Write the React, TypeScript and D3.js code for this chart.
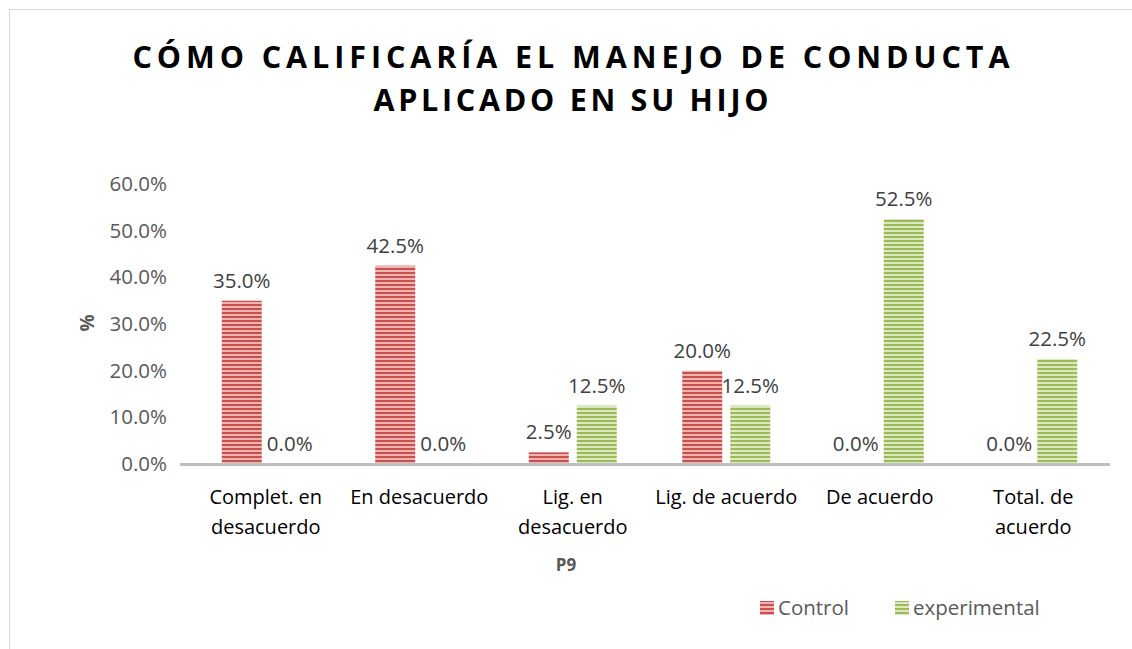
import React from "react";
import * as d3 from "d3";

const categories: string[][] = [
  ["Complet. en", "desacuerdo"],
  ["En desacuerdo"],
  ["Lig. en", "desacuerdo"],
  ["Lig. de acuerdo"],
  ["De acuerdo"],
  ["Total. de", "acuerdo"],
];
const control = [35.0, 42.5, 2.5, 20.0, 0.0, 0.0];
const experimental = [0.0, 0.0, 12.5, 12.5, 52.5, 22.5];
const yTicks = [0, 10, 20, 30, 40, 50, 60];
const seriesNames = ["Control", "experimental"];
const titleLines = ["CÓMO CALIFICARÍA EL MANEJO DE CONDUCTA", "APLICADO EN SU HIJO"];

const W = 1132;
const H = 649;
const FONT = "'Open Sans', 'DejaVu Sans', sans-serif";

export default function App() {
  const x = d3.scaleBand<number>().domain(d3.range(categories.length)).range([189, 1110]);
  const y = d3.scaleLinear().domain([0, 60]).range([464, 184]);
  const barW = 40;
  const gap = 8;
  const series = [
    { name: seriesNames[0], values: control, fill: "url(#patRed)", dx: -gap / 2 - barW },
    { name: seriesNames[1], values: experimental, fill: "url(#patGreen)", dx: gap / 2 },
  ];
  const titleLens = [877, 395];
  return (
    <svg width={W} height={H} style={{ position: "absolute", left: 0, top: 0 }}>
      <defs>
        <pattern id="patRed" patternUnits="userSpaceOnUse" width={6} height={4}>
          <rect width={6} height={4} fill="#EBB5B4" />
          <rect width={6} height={2} fill="#C9504D" />
        </pattern>
        <pattern id="patGreen" patternUnits="userSpaceOnUse" width={6} height={4}>
          <rect width={6} height={4} fill="#DCE9C0" />
          <rect width={6} height={2} fill="#9BBB59" />
        </pattern>
      </defs>
      <rect x={0} y={0} width={W} height={H} fill="#fff" />
      <rect x={9.5} y={9.5} width={1140} height={660} fill="#fff" stroke="#D9D9D9" strokeWidth={1} />
      {titleLines.map((t, i) => (
        <text
          key={i}
          x={571 - titleLens[i] / 2}
          y={68 + i * 43}
          textLength={titleLens[i]}
          lengthAdjust="spacing"
          fontFamily={FONT}
          fontWeight="bold"
          fontSize={30.5}
          fill="#000"
        >
          {t}
        </text>
      ))}
      {yTicks.map((t) => (
        <text key={t} x={167} y={y(t) + 7} textAnchor="end" fontFamily={FONT} fontSize={20.5} fill="#595959">
          {t.toFixed(1) + "%"}
        </text>
      ))}
      <text transform={`translate(94,323) rotate(-90)`} textAnchor="middle" fontFamily={FONT} fontWeight="bold" fontSize={19} fill="#595959">
        %
      </text>
      {series.map((s) =>
        s.values.map((v, i) => {
          const cx = (x(i) as number) + x.bandwidth() / 2;
          const bx = cx + s.dx;
          return (
            <g key={s.name + i}>
              <rect x={bx} y={y(v)} width={barW} height={y(0) - y(v)} fill={s.fill} />
              <text x={bx + barW / 2} y={y(v) - 13} textAnchor="middle" fontFamily={FONT} fontSize={20.5} fill="#404040">
                {v.toFixed(1) + "%"}
              </text>
            </g>
          );
        })
      )}
      <line x1={180} x2={1110} y1={y(0) + 0.5} y2={y(0) + 0.5} stroke="#BFBFBF" strokeWidth={3} />
      {categories.map((lines, i) => {
        const cx = (x(i) as number) + x.bandwidth() / 2;
        return (
          <text key={i} textAnchor="middle" fontFamily={FONT} fontSize={20} fill="#000">
            {lines.map((l, j) => (
              <tspan key={j} x={cx} y={504 + j * 30}>
                {l}
              </tspan>
            ))}
          </text>
        );
      })}
      <text x={566} y={571} textAnchor="middle" fontFamily={FONT} fontWeight="bold" fontSize={17} fill="#595959">
        P9
      </text>
      <rect x={760} y={601} width={14} height={14} fill="url(#patRed)" />
      <text x={778} y={615} fontFamily={FONT} fontSize={20.5} fill="#595959">
        {seriesNames[0]}
      </text>
      <rect x={895} y={601} width={14} height={14} fill="url(#patGreen)" />
      <text x={913} y={615} fontFamily={FONT} fontSize={20.5} fill="#595959">
        {seriesNames[1]}
      </text>
    </svg>
  );
}
